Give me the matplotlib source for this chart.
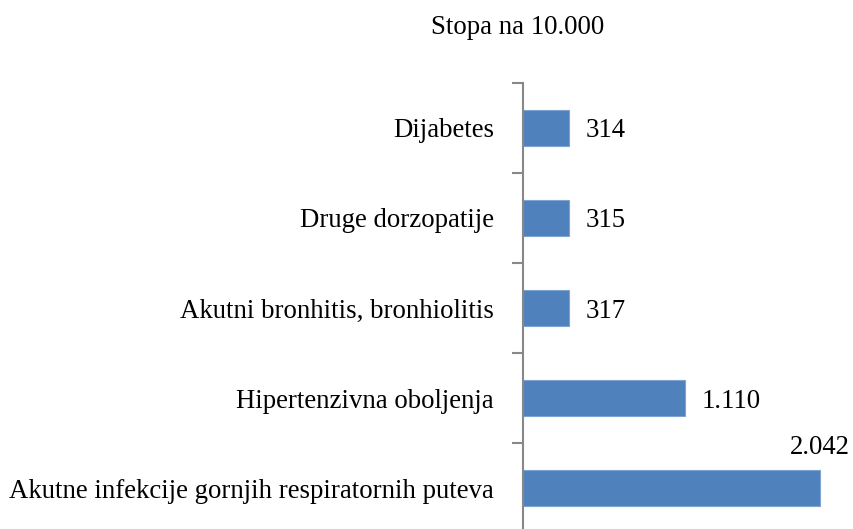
import numpy as np
import matplotlib.pyplot as plt

categories = ['Dijabetes', 'Druge dorzopatije', 'Akutni bronhitis, bronhiolitis',
              'Hipertenzivna oboljenja',
              'Akutne infekcije gornjih respiratornih puteva']
values = [314, 315, 317, 1110, 2042]
value_labels = ['314', '315', '317', '1.110', '2.042']

plt.rcParams['font.family'] = 'Liberation Serif'
plt.rcParams['font.size'] = 19.3

fig = plt.figure(figsize=(8.54, 5.29), dpi=100)
ax = fig.add_axes([523 / 854, -4 / 529, 331 / 854, 450 / 529])

y = np.arange(len(categories))
ax.barh(y, values, height=0.4, color='#4F81BD', edgecolor='#7FA3D3', lw=0.8)
ax.set_ylim(len(categories) - 0.5, -0.5)
ax.set_xlim(0, 331 / 0.1455)

ax.set_yticks(y)
ax.set_yticklabels(categories)
ax.set_yticks(np.arange(-0.5, len(categories) + 0.5, 1), minor=True)
ax.tick_params(axis='y', which='major', length=0, pad=21)
ax.tick_params(axis='y', which='minor', length=8, width=1.5, color='#888888')
ax.set_xticks([])
for s in ['top', 'right', 'bottom']:
    ax.spines[s].set_visible(False)
ax.spines['left'].set_color('#888888')
ax.spines['left'].set_linewidth(1.5)

for yi, v, lab in zip(y, values, value_labels):
    if v > 2000:
        ax.annotate(lab, (v, yi), xytext=(30, 41), textcoords='offset pixels',
                    ha='right', va='center')
    else:
        ax.annotate(lab, (v, yi), xytext=(17, -3), textcoords='offset pixels',
                    ha='left', va='center')

fig.text(518 / 854, 1 - 28 / 529, 'Stopa na 10.000', ha='center', va='center')

plt.savefig('out.png', dpi=100)
